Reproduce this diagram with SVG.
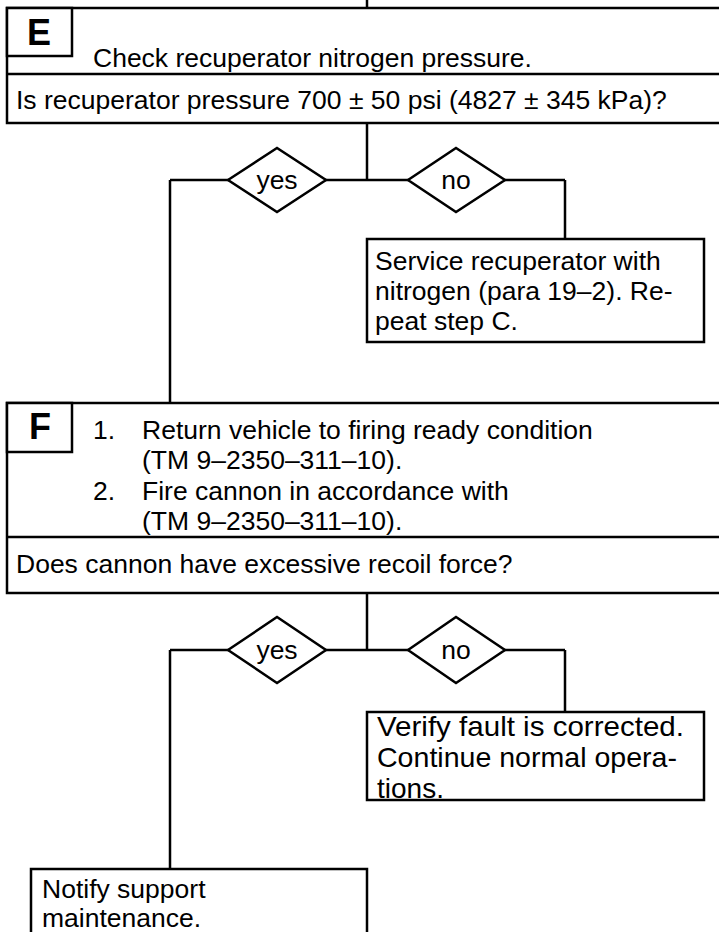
<svg xmlns="http://www.w3.org/2000/svg" width="719" height="932" viewBox="0 0 719 932">
<style>
.bx{fill:#fff;stroke:#000;stroke-width:2.5}
.ln{fill:none;stroke:#000;stroke-width:2.5}
.t{font-family:"Liberation Sans",Arial,sans-serif;font-size:26.5px;fill:#000}
.v{font-family:"Liberation Sans",Arial,sans-serif;font-size:28px;fill:#000}
.lb{font-family:"Liberation Sans",Arial,sans-serif;font-size:36px;font-weight:bold;fill:#000}
.d{fill:#fff;stroke:#000;stroke-width:2.5}
</style>
<rect width="719" height="932" fill="#fff"/>
<g id="connectors">
<path class="ln" d="M367 0V8"/>
<path class="ln" d="M367 123V180M170 180H565M170 180V403M565 180V239"/>
<path class="ln" d="M367 593V650M170 650H565M170 650V869M565 650V712"/>
</g>
<g id="nodeE">
<rect class="bx" x="7" y="8" width="730" height="115"/>
<path class="ln" d="M7 74H730"/>
<rect class="bx" x="7" y="8" width="65" height="48"/>
<text class="lb" x="39" y="45" text-anchor="middle">E</text>
<text class="t" x="93" y="67">Check recuperator nitrogen pressure.</text>
<text class="t" x="16" y="109">Is recuperator pressure 700 ± 50 psi (4827 ± 345 kPa)?</text>
</g>
<g id="yes1">
<polygon class="d" points="228,180 277,148 326,180 277,212"/>
<text class="t" x="277" y="189" text-anchor="middle">yes</text>
</g>
<g id="no1">
<polygon class="d" points="408,180 456,148 505,180 456,212"/>
<text class="t" x="456" y="189" text-anchor="middle">no</text>
</g>
<g id="service">
<rect class="bx" x="367" y="239" width="337" height="103"/>
<text class="t" x="375" y="270">Service recuperator with</text>
<text class="t" x="375" y="300">nitrogen (para 19–2). Re-</text>
<text class="t" x="375" y="330">peat step C.</text>
</g>
<g id="nodeF">
<rect class="bx" x="7" y="403" width="730" height="190"/>
<path class="ln" d="M7 537H730"/>
<rect class="bx" x="7" y="403" width="65" height="49"/>
<text class="lb" x="40" y="439" text-anchor="middle">F</text>
<text class="t" x="93" y="439">1.</text>
<text class="t" x="142" y="439">Return vehicle to firing ready condition</text>
<text class="t" x="142" y="469">(TM 9–2350–311–10).</text>
<text class="t" x="93" y="500">2.</text>
<text class="t" x="142" y="500">Fire cannon in accordance with</text>
<text class="t" x="142" y="530">(TM 9–2350–311–10).</text>
<text class="t" x="16" y="573">Does cannon have excessive recoil force?</text>
</g>
<g id="yes2">
<polygon class="d" points="228,650 277,617 326,650 277,683"/>
<text class="t" x="277" y="659" text-anchor="middle">yes</text>
</g>
<g id="no2">
<polygon class="d" points="408,650 456,617 505,650 456,683"/>
<text class="t" x="456" y="659" text-anchor="middle">no</text>
</g>
<g id="verify">
<rect class="bx" x="367" y="712" width="337" height="88"/>
<text class="v" x="377" y="736" textLength="307" lengthAdjust="spacingAndGlyphs">Verify fault is corrected.</text>
<text class="v" x="377" y="767" textLength="300" lengthAdjust="spacingAndGlyphs">Continue normal opera-</text>
<text class="v" x="377" y="798">tions.</text>
</g>
<g id="notify">
<rect class="bx" x="31" y="869" width="336" height="80"/>
<text class="t" x="42" y="898">Notify support</text>
<text class="t" x="42" y="927">maintenance.</text>
</g>
</svg>
